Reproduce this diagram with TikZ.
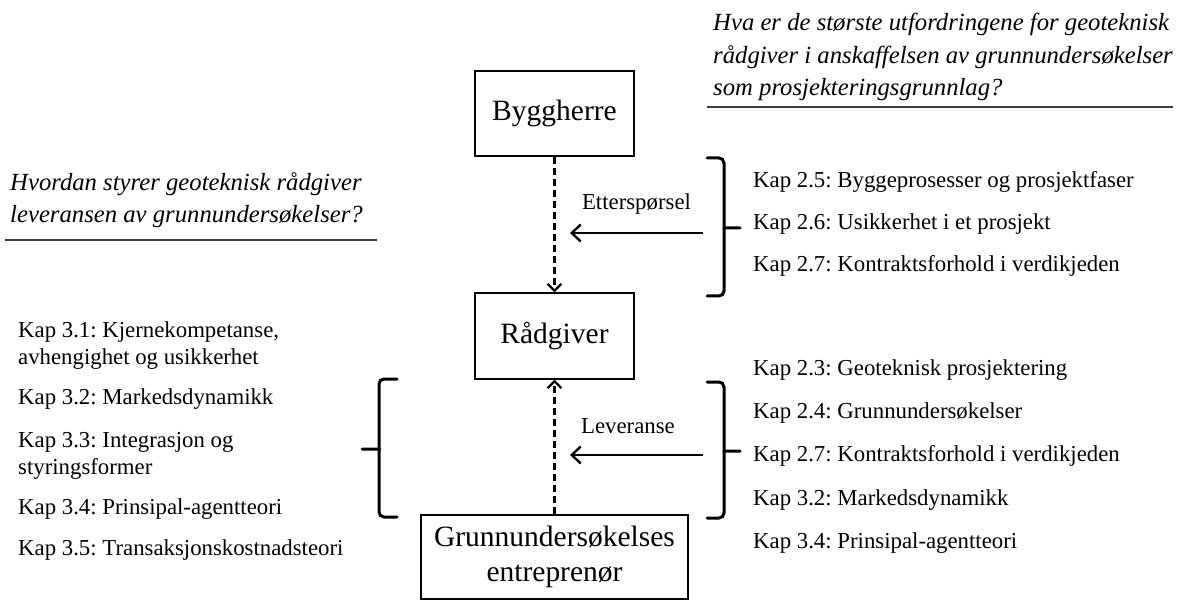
\documentclass[tikz,border=0pt]{standalone}
\usepackage{fontspec}
\setmainfont{Liberation Serif}
\usetikzlibrary{arrows.meta}
\frenchspacing
\begin{document}
\begin{tikzpicture}[x=1pt,y=-1pt,
  actor/.style={draw, line width=1.3pt, inner sep=0pt,
    font=\fontsize{29.5}{35.5}\selectfont, align=center},
  item/.style={anchor=base west, inner sep=0pt,
    font=\fontsize{22.8}{27}\selectfont, align=left},
  question/.style={anchor=base west, inner sep=0pt,
    font=\fontsize{24.7}{32.5}\selectfont\itshape, align=left},
  flowlabel/.style={anchor=base, inner sep=0pt,
    font=\fontsize{22.8}{27}\selectfont},
  flow/.style={line width=2.6pt, -{Straight Barb[length=9pt,width=17pt,line width=2.4pt]}},
  relation/.style={line width=2.2pt, dash pattern=on 7pt off 4pt,
    -{Straight Barb[length=7pt,width=14pt,line width=2.2pt]}},
  bracket/.style={line width=3pt, line cap=round},
  rule/.style={line width=1.4pt, draw=black!75}]
\useasboundingbox (0,0) rectangle (1179,604);

% the three parties
\node[actor, minimum width=159pt, minimum height=85pt] (bygg) at (554.5,113.5) {\raisebox{-2.5pt}{Byggherre}};
\node[actor, minimum width=159pt, minimum height=86pt] (rad) at (554.5,336) {\raisebox{-3pt}{Rådgiver}};
\node[actor, minimum width=267pt, minimum height=84pt] (grunn) at (554.5,557) {Grunnundersøkelses\\entreprenør};

% demand flows down, delivery flows up
\draw[relation] (bygg.south) -- (rad.north);
\draw[relation] (grunn.north) -- (rad.south);

% research questions (anchored at the baseline of their last line)
\node[question] (q1) at (713,96) {Hva er de største utfordringene for geoteknisk\\rådgiver i anskaffelsen av grunnundersøkelser\\som prosjekteringsgrunnlag?};
\coordinate (q1a) at (707,107);
\coordinate (q1b) at (1173,107);
\draw[rule] (q1a) -- (q1b);

\node[question] (q2) at (10,223) {Hvordan styrer geoteknisk rådgiver\\leveransen av grunnundersøkelser?};
\coordinate (q2a) at (5,240);
\coordinate (q2b) at (377,240);
\draw[rule] (q2a) -- (q2b);

% chapters behind the demand
\node[item] (k25) at (753,188) {Kap 2.5: Byggeprosesser og prosjektfaser};
\node[item] (k26) at (753,230) {Kap 2.6: Usikkerhet i et prosjekt};
\node[item] (k27a) at (753,272) {Kap 2.7: Kontraktsforhold i verdikjeden};

% chapters behind the delivery
\node[item] (k23) at (753,375) {Kap 2.3: Geoteknisk prosjektering};
\node[item] (k24) at (753,418) {Kap 2.4: Grunnundersøkelser};
\node[item] (k27b) at (753,461) {Kap 2.7: Kontraktsforhold i verdikjeden};
\node[item] (k32b) at (753,505) {Kap 3.2: Markedsdynamikk};
\node[item] (k34b) at (753,548) {Kap 3.4: Prinsipal-agentteori};

% theory chapters
\node[item] (k31) at (18,364) {Kap 3.1: Kjernekompetanse,\\avhengighet og usikkerhet};
\node[item] (k32) at (18,404) {Kap 3.2: Markedsdynamikk};
\node[item] (k33) at (18,474) {Kap 3.3: Integrasjon og\\styringsformer};
\node[item] (k34) at (18,514) {Kap 3.4: Prinsipal-agentteori};
\node[item] (k35) at (18,555) {Kap 3.5: Transaksjonskostnadsteori};

% brackets grouping the chapters
\draw[bracket, rounded corners=5pt] (707,158) -- (724,158) -- (724,200)
  [sharp corners] -- (724,228) -- (740,228);
\draw[bracket, rounded corners=5pt] (707,296) -- (724,296) -- (724,250)
  [sharp corners] -- (724,228);
\draw[bracket, rounded corners=5pt] (707,382) -- (724,382) -- (724,420)
  [sharp corners] -- (724,451) -- (740,451);
\draw[bracket, rounded corners=5pt] (707,518) -- (724,518) -- (724,480)
  [sharp corners] -- (724,451);
\draw[bracket, rounded corners=5pt] (397,379) -- (379,379) -- (379,420)
  [sharp corners] -- (379,449) -- (362,449);
\draw[bracket, rounded corners=5pt] (397,517) -- (379,517) -- (379,480)
  [sharp corners] -- (379,449);

% horizontal flows with labels
\coordinate (d1) at (703,233);
\coordinate (d2) at (570,233);
\draw[flow] (d1) -- (d2);
\node[flowlabel] (etter) at (636.5,210) {Etterspørsel};

\coordinate (l1) at (703,455);
\coordinate (l2) at (570,455);
\draw[flow] (l1) -- (l2);
\node[flowlabel] (lever) at (628,433) {Leveranse};
\end{tikzpicture}
\end{document}
